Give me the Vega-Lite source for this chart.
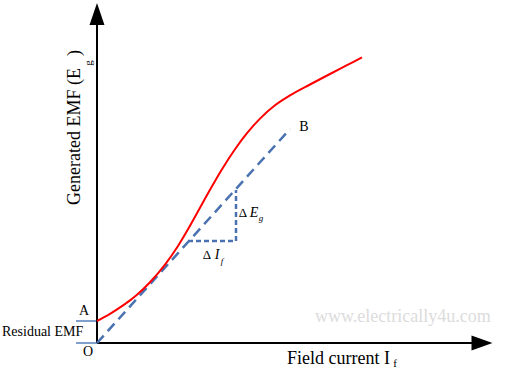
{
  "$schema": "https://vega.github.io/schema/vega-lite/v6.json",
  "width": 507,
  "height": 378,
  "autosize": {"type": "fit", "contains": "padding"},
  "padding": 0,
  "background": "white",
  "config": {"view": {"stroke": null}, "font": "Liberation Serif", "text": {"font": "Liberation Serif"}},
  "datasets": {
    "curve": [
      {"x": 0, "y": 22}, {"x": 13, "y": 29.1}, {"x": 26, "y": 37.6}, {"x": 33, "y": 42.6},
      {"x": 40, "y": 48.2}, {"x": 53, "y": 60.7}, {"x": 68, "y": 78.4}, {"x": 81, "y": 97},
      {"x": 93, "y": 117.2}, {"x": 103, "y": 135.2}, {"x": 113, "y": 153.2}, {"x": 125, "y": 173.8},
      {"x": 138, "y": 193.8}, {"x": 150, "y": 209.9}, {"x": 163, "y": 224.4}, {"x": 178, "y": 237.7},
      {"x": 193, "y": 247.6}, {"x": 213, "y": 258.5}, {"x": 233, "y": 269}, {"x": 249, "y": 277.3},
      {"x": 265, "y": 285.6}
    ],
    "airgap": [{"x": 0, "y": 0}, {"x": 193, "y": 214}],
    "triangle": [{"x": 91, "y": 102, "o": 1}, {"x": 139, "y": 102, "o": 2}, {"x": 139, "y": 153, "o": 3}],
    "residual": [{"x": -21, "x2": 0, "y": 0}, {"x": -21, "x2": 0, "y": 22}],
    "axes": [{"x": 0, "y": 0, "x2": 0, "y2": 318}, {"x": 0, "y": 0, "x2": 378, "y2": 0}]
  },
  "layer": [
    {
      "data": {"name": "residual"},
      "mark": {"type": "rule", "color": "#7f9fcc", "strokeWidth": 2},
      "encoding": {
        "x": {"field": "x", "type": "quantitative", "scale": {"domain": [-97, 410], "nice": false, "zero": false}, "axis": null},
        "x2": {"field": "x2"},
        "y": {"field": "y", "type": "quantitative", "scale": {"domain": [-35, 343], "nice": false, "zero": false}, "axis": null}
      }
    },
    {
      "data": {"name": "axes"},
      "mark": {"type": "rule", "color": "#000000", "strokeWidth": 2},
      "encoding": {
        "x": {"field": "x", "type": "quantitative"},
        "x2": {"field": "x2"},
        "y": {"field": "y", "type": "quantitative"},
        "y2": {"field": "y2"}
      }
    },
    {
      "data": {"values": [{"x": 0, "y": 329}]},
      "mark": {"type": "point", "shape": "M0,-1L-0.68,1L0.68,1Z", "size": 484, "filled": true, "color": "#000000", "opacity": 1},
      "encoding": {"x": {"field": "x", "type": "quantitative"}, "y": {"field": "y", "type": "quantitative"}}
    },
    {
      "data": {"values": [{"x": 385, "y": 0}]},
      "mark": {"type": "point", "shape": "M1,0L-1,-0.72L-1,0.72Z", "size": 441, "filled": true, "color": "#000000", "opacity": 1},
      "encoding": {"x": {"field": "x", "type": "quantitative"}, "y": {"field": "y", "type": "quantitative"}}
    },
    {
      "data": {"name": "airgap"},
      "mark": {"type": "line", "color": "#4a72b0", "strokeWidth": 2.5, "strokeDash": [10, 6]},
      "encoding": {"x": {"field": "x", "type": "quantitative"}, "y": {"field": "y", "type": "quantitative"}}
    },
    {
      "data": {"name": "triangle"},
      "mark": {"type": "line", "color": "#4a72b0", "strokeWidth": 2.5, "strokeDash": [5, 3]},
      "encoding": {"x": {"field": "x", "type": "quantitative"}, "y": {"field": "y", "type": "quantitative"}, "order": {"field": "o", "type": "quantitative"}}
    },
    {
      "data": {"name": "curve"},
      "mark": {"type": "line", "color": "#ff0000", "strokeWidth": 2, "interpolate": "monotone"},
      "encoding": {"x": {"field": "x", "type": "quantitative"}, "y": {"field": "y", "type": "quantitative"}}
    },
    {
      "data": {"values": [
        {"x": -13, "y": 32, "t": "A"},
        {"x": -9, "y": -9, "t": "O"},
        {"x": 207, "y": 216, "t": "B"}
      ]},
      "mark": {"type": "text", "fontSize": 14, "color": "#000000", "align": "center", "baseline": "middle"},
      "encoding": {"x": {"field": "x", "type": "quantitative"}, "y": {"field": "y", "type": "quantitative"}, "text": {"field": "t"}}
    },
    {
      "data": {"values": [{"x": -95, "y": 11, "t": "Residual EMF"}]},
      "mark": {"type": "text", "fontSize": 14, "color": "#000000", "align": "left", "baseline": "middle"},
      "encoding": {"x": {"field": "x", "type": "quantitative"}, "y": {"field": "y", "type": "quantitative"}, "text": {"field": "t"}}
    },
    {
      "data": {"values": [{"x": 218, "y": 26, "t": "www.electrically4u.com"}]},
      "mark": {"type": "text", "fontSize": 18, "color": "#dcdcdc", "align": "left", "baseline": "middle"},
      "encoding": {"x": {"field": "x", "type": "quantitative"}, "y": {"field": "y", "type": "quantitative"}, "text": {"field": "t"}}
    },
    {
      "data": {"values": [{"x": 190, "y": -16, "t": "Field current I"}]},
      "mark": {"type": "text", "fontSize": 18, "color": "#000000", "align": "left", "baseline": "middle"},
      "encoding": {"x": {"field": "x", "type": "quantitative"}, "y": {"field": "y", "type": "quantitative"}, "text": {"field": "t"}}
    },
    {
      "data": {"values": [{"x": 298, "y": -21, "t": "f"}]},
      "mark": {"type": "text", "fontSize": 11, "color": "#000000", "align": "center", "baseline": "middle"},
      "encoding": {"x": {"field": "x", "type": "quantitative"}, "y": {"field": "y", "type": "quantitative"}, "text": {"field": "t"}}
    },
    {
      "data": {"values": [{"x": -22, "y": 138, "t": "Generated EMF (E"}, {"x": -22, "y": 287, "t": ")"}]},
      "mark": {"type": "text", "fontSize": 18, "color": "#000000", "align": "left", "baseline": "middle", "angle": 270},
      "encoding": {"x": {"field": "x", "type": "quantitative"}, "y": {"field": "y", "type": "quantitative"}, "text": {"field": "t"}}
    },
    {
      "data": {"values": [{"x": -8, "y": 280, "t": "g"}]},
      "mark": {"type": "text", "fontSize": 11, "color": "#000000", "align": "center", "baseline": "middle", "angle": 270},
      "encoding": {"x": {"field": "x", "type": "quantitative"}, "y": {"field": "y", "type": "quantitative"}, "text": {"field": "t"}}
    },
    {
      "data": {"values": [{"x": 146, "y": 130, "t": "Δ"}, {"x": 110, "y": 88, "t": "Δ"}]},
      "mark": {"type": "text", "fontSize": 13, "color": "#000000", "align": "center", "baseline": "middle"},
      "encoding": {"x": {"field": "x", "type": "quantitative"}, "y": {"field": "y", "type": "quantitative"}, "text": {"field": "t"}}
    },
    {
      "data": {"values": [{"x": 157, "y": 130, "t": "E"}, {"x": 120, "y": 88, "t": "I"}]},
      "mark": {"type": "text", "fontSize": 14, "fontStyle": "italic", "color": "#000000", "align": "center", "baseline": "middle"},
      "encoding": {"x": {"field": "x", "type": "quantitative"}, "y": {"field": "y", "type": "quantitative"}, "text": {"field": "t"}}
    },
    {
      "data": {"values": [{"x": 164, "y": 125, "t": "g"}, {"x": 125, "y": 82, "t": "f"}]},
      "mark": {"type": "text", "fontSize": 9, "fontStyle": "italic", "color": "#000000", "align": "center", "baseline": "middle"},
      "encoding": {"x": {"field": "x", "type": "quantitative"}, "y": {"field": "y", "type": "quantitative"}, "text": {"field": "t"}}
    }
  ]
}
